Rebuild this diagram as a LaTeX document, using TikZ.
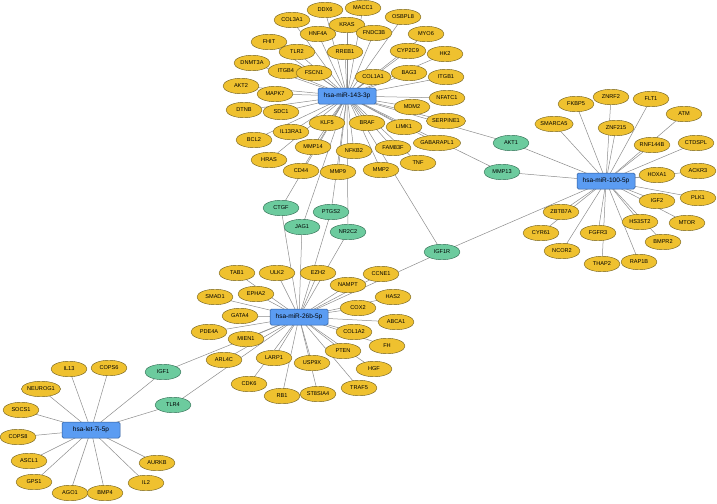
\documentclass[tikz,border=0pt]{standalone}
\usepackage{fontspec}
\setmainfont{Liberation Sans}
\usetikzlibrary{shapes.geometric,backgrounds}
\definecolor{yelf}{HTML}{EFC12F}
\definecolor{yeld}{HTML}{6E5E1E}
\definecolor{grnf}{HTML}{6CCB9E}
\definecolor{grnd}{HTML}{2F6A50}
\definecolor{bluf}{HTML}{5B9CF2}
\definecolor{blud}{HTML}{2C5A9A}
\definecolor{edg}{HTML}{8C8C8C}
\tikzset{
  sat/.style={ellipse, draw=yeld, fill=yelf, line width=0.4pt, minimum width=36pt, minimum height=15.5pt, inner sep=0pt, font=\fontsize{5.6}{6}\selectfont},
  grn/.style={sat, draw=grnd, fill=grnf},
  hub/.style={rectangle, rounded corners=1.5pt, draw=blud, fill=bluf, line width=0.5pt, minimum width=58pt, minimum height=16pt, inner sep=0pt, font=\fontsize{6.5}{7}\selectfont},
  edge/.style={draw=edg, line width=0.5pt}
}
\newcommand{\yn}[3]{\node[sat] (#1) at (#2,#3) {#1};}
\newcommand{\gn}[3]{\node[grn] (#1) at (#2,#3) {#1};}
\begin{document}
\begin{tikzpicture}[x=1pt,y=-1pt]
\useasboundingbox (0,0) rectangle (717,503);
% hubs
\node[hub] (m143) at (347,96) {hsa-miR-143-3p};
\node[hub] (m100) at (606,181) {hsa-miR-100-5p};
\node[hub] (m26b) at (299,317) {hsa-miR-26b-5p};
\node[hub] (let7i) at (91,430) {hsa-let-7i-5p};
% miR-143 satellites
\yn{COL3A1}{292}{20}
\yn{DDX6}{325}{10}
\yn{MACC1}{363}{8}
\yn{KRAS}{347}{25}
\yn{HNF4A}{318}{34}
\yn{FNDC3B}{374}{33}
\yn{OSBPL8}{403}{17}
\yn{MYO6}{426}{34}
\yn{CYP2C9}{408}{51}
\yn{HK2}{445}{54}
\yn{FHIT}{269}{42}
\yn{TLR2}{297}{52}
\yn{RREB1}{345}{52}
\yn{DNMT3A}{252}{63}
\yn{ITGB4}{286}{71}
\yn{FSCN1}{314}{73}
\yn{COL1A1}{373}{77}
\yn{BAG3}{409}{73}
\yn{ITGB1}{446}{77}
\yn{AKT2}{241}{86}
\yn{MAPK7}{275}{94}
\yn{DTNB}{244}{110}
\yn{SDC1}{281}{112}
\yn{NFATC1}{447}{98}
\yn{MDM2}{412}{107}
\yn{SERPINE1}{446}{121}
\yn{LIMK1}{404}{127}
\yn{GABARAPL1}{437}{143}
\yn{FAM83F}{393}{148}
\yn{TNF}{418}{163}
\yn{KLF5}{327}{123}
\yn{BRAF}{367}{123}
\yn{IL13RA1}{291}{132}
\yn{BCL2}{254}{140}
\yn{MMP14}{313}{147}
\yn{NFKB2}{354}{151}
\yn{HRAS}{269}{160}
\yn{CD44}{301}{171}
\yn{MMP9}{338}{172}
\yn{MMP2}{381}{170}
% shared (green)
\gn{AKT1}{511}{143}
\gn{MMP13}{502}{172}
\gn{CTGF}{281}{208}
\gn{PTGS2}{331}{212}
\gn{JAG1}{302}{227}
\gn{NR2C2}{348}{232}
\gn{IGF1R}{442}{252}
\gn{IGF1}{163}{372}
\gn{TLR4}{173}{405}
% miR-100 satellites
\yn{FKBP5}{576}{104}
\yn{ZNRF2}{611}{97}
\yn{FLT1}{651}{99}
\yn{SMARCA5}{554}{124}
\yn{ATM}{684}{114}
\yn{ZNF215}{616}{128}
\yn{RNF144B}{652}{145}
\yn{CTDSPL}{696}{143}
\yn{HOXA1}{657}{175}
\yn{ACKR3}{698}{171}
\yn{IGF2}{657}{201}
\yn{PLK1}{698}{198}
\yn{ZBTB7A}{561}{212}
\yn{HS3ST2}{640}{222}
\yn{MTOR}{687}{223}
\yn{CYR61}{541}{233}
\yn{FGFR3}{598}{233}
\yn{BMPR2}{663}{242}
\yn{NCOR2}{562}{251}
\yn{THAP2}{602}{264}
\yn{RAP1B}{639}{262}
% miR-26b satellites
\yn{TAB1}{237}{273}
\yn{ULK2}{277}{273}
\yn{EZH2}{318}{273}
\yn{CCNE1}{381}{274}
\yn{SMAD1}{215}{297}
\yn{EPHA2}{256}{294}
\yn{NAMPT}{348}{285}
\yn{HAS2}{393}{297}
\yn{GATA4}{240}{316}
\yn{COX2}{358}{308}
\yn{ABCA1}{396}{322}
\yn{PDE4A}{209}{332}
\yn{MIEN1}{246}{339}
\yn{COL1A2}{354}{332}
\yn{FH}{387}{346}
\yn{PTEN}{343}{351}
\yn{LARP1}{274}{358}
\yn{ARL4C}{224}{360}
\yn{USP9X}{312}{363}
\yn{HGF}{374}{369}
\yn{CDK6}{249}{384}
\yn{TRAF5}{359}{388}
\yn{RB1}{282}{396}
\yn{ST8SIA4}{318}{394}
% let-7i satellites
\yn{IL13}{69}{369}
\yn{COPS6}{109}{368}
\yn{NEUROG1}{41}{389}
\yn{SOCS1}{21}{410}
\yn{COPS8}{18}{437}
\yn{ASCL1}{29}{461}
\yn{AURKB}{157}{463}
\yn{GPS1}{34}{482}
\yn{IL2}{146}{483}
\yn{AGO1}{70}{493}
\yn{BMP4}{105}{493}
% edges
\begin{scope}[on background layer]
\foreach \s in {COL3A1,DDX6,MACC1,KRAS,HNF4A,FNDC3B,OSBPL8,MYO6,CYP2C9,HK2,FHIT,TLR2,RREB1,DNMT3A,ITGB4,FSCN1,COL1A1,BAG3,ITGB1,AKT2,MAPK7,DTNB,SDC1,NFATC1,MDM2,SERPINE1,LIMK1,GABARAPL1,FAM83F,TNF,KLF5,BRAF,IL13RA1,BCL2,MMP14,NFKB2,HRAS,CD44,MMP9,MMP2,AKT1,MMP13,CTGF,PTGS2,JAG1,NR2C2,IGF1R}
  \draw[edge] (m143.center) -- (\s.center);
\foreach \s in {FKBP5,ZNRF2,FLT1,SMARCA5,ATM,ZNF215,RNF144B,CTDSPL,HOXA1,ACKR3,IGF2,PLK1,ZBTB7A,HS3ST2,MTOR,CYR61,FGFR3,BMPR2,NCOR2,THAP2,RAP1B,AKT1,MMP13,IGF1R}
  \draw[edge] (m100.center) -- (\s.center);
\foreach \s in {TAB1,ULK2,EZH2,CCNE1,SMAD1,EPHA2,NAMPT,HAS2,GATA4,COX2,ABCA1,PDE4A,MIEN1,COL1A2,FH,PTEN,LARP1,ARL4C,USP9X,HGF,CDK6,TRAF5,RB1,ST8SIA4,CTGF,PTGS2,JAG1,NR2C2,IGF1R,IGF1,TLR4}
  \draw[edge] (m26b.center) -- (\s.center);
\foreach \s in {IL13,COPS6,NEUROG1,SOCS1,COPS8,ASCL1,GPS1,AGO1,BMP4,IL2,AURKB,IGF1,TLR4}
  \draw[edge] (let7i.center) -- (\s.center);
\end{scope}
\end{tikzpicture}
\end{document}
